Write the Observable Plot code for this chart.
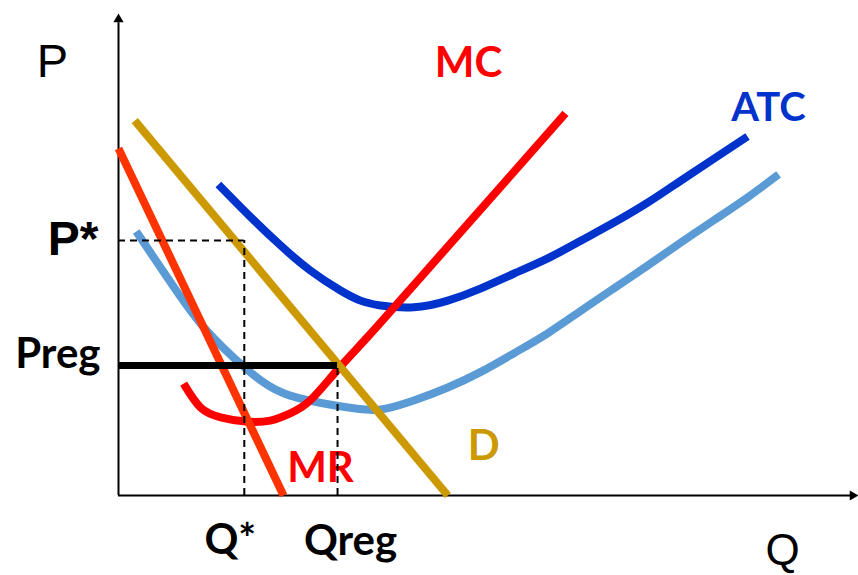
<!DOCTYPE html>
<html><head><meta charset="utf-8">
<script src="https://cdn.jsdelivr.net/npm/d3@7"></script>
<script src="https://cdn.jsdelivr.net/npm/@observablehq/plot@0.6"></script>
<style>html,body{margin:0;padding:0;background:#fff}</style>
</head><body><div id="chart"></div>
<script>
// Quantity (Q) and price (P) values
const mrQ = [0, 2.23];
const mrP = [7.23, 0];
const dQ = [0.22, 4.45];
const dP = [7.81, 0];
const mcQ = [0.88, 1.11, 1.38, 1.72, 2.05, 2.32, 2.59, 2.96, 3.36, 4.08, 6.04];
const mcP = [2.33, 1.83, 1.63, 1.54, 1.56, 1.71, 1.98, 2.62, 3.29, 4.54, 7.96];
const atcQ = [1.35, 1.78, 2.19, 2.59, 3.00, 3.27, 3.54, 3.99, 4.45, 4.89, 5.34, 5.80, 6.24, 6.69, 7.15, 7.59, 8.04, 8.50];
const atcP = [6.48, 5.81, 5.21, 4.69, 4.27, 4.06, 3.96, 3.92, 4.06, 4.31, 4.62, 4.94, 5.30, 5.68, 6.10, 6.55, 7.01, 7.48];
const avcQ = [0.24, 0.66, 1.11, 1.55, 1.92, 2.32, 2.91, 3.34, 3.61, 3.99, 4.45, 4.89, 5.34, 5.80, 6.24, 6.69, 7.15, 7.59, 8.04, 8.50, 8.92];
const avcP = [5.50, 4.54, 3.58, 2.88, 2.40, 2.08, 1.88, 1.79, 1.81, 1.98, 2.25, 2.57, 2.96, 3.38, 3.84, 4.31, 4.79, 5.26, 5.73, 6.21, 6.69];
const qStar = 1.70, pStar = 5.31;
const qReg = 2.96, pReg = 2.71;
const qMax = 10, pMax = 10;
const axisLabels = ["P", "Q"];
const levelLabels = ["P*", "Preg", "Q*", "Qreg"];
const curveLabels = ["MC", "ATC", "D", "MR"];

const pts = (qs, ps) => qs.map((q, i) => ({q, p: ps[i]}));
const mr = pts(mrQ, mrP), dem = pts(dQ, dP), mc = pts(mcQ, mcP), atc = pts(atcQ, atcP), avc = pts(avcQ, avcP);
const last = a => [a[a.length - 1]];

const calibri = "Lato, 'Open Sans', sans-serif";
const arial = "'Liberation Sans', Arial, sans-serif";
const lineOpts = {x: "q", y: "p", strokeWidth: 8, curve: "natural", strokeLinecap: "butt", strokeLinejoin: "round"};

const chart = Plot.plot({
  width: 858,
  height: 575,
  margin: 0,
  x: {domain: [0, qMax], range: [118, 858], axis: null},
  y: {domain: [0, pMax], range: [495, 15], axis: null},
  style: {background: "#fff", overflow: "visible"},
  marks: [
    // axes
    Plot.ruleY([0], {x1: 0, x2: qMax * 0.992, stroke: "#000", strokeWidth: 2}),
    Plot.ruleX([0], {y1: 0, y2: pMax * 0.985, stroke: "#000", strokeWidth: 2}),
    Plot.dot([{q: qMax * 0.9922, p: 0}], {x: "q", y: "p", symbol: "triangle", r: 3.8, fill: "#000", rotate: 90}),
    Plot.dot([{q: 0, p: pMax * 0.992}], {x: "q", y: "p", symbol: "triangle", r: 3.8, fill: "#000"}),
    // curves
    Plot.line(atc, {...lineOpts, stroke: "#0033CC"}),
    Plot.line(avc, {...lineOpts, stroke: "#5B9BD5"}),
    Plot.line(mc, {...lineOpts, stroke: "#FF0000"}),
    Plot.line(mr, {...lineOpts, curve: "linear", stroke: "#FF3300"}),
    Plot.line(dem, {...lineOpts, curve: "linear", stroke: "#CC9900"}),
    // labels on curves
    Plot.text(last(mc), {x: "q", y: "p", text: () => curveLabels[0], dx: -97, dy: -50, fill: "#FF0000", fontSize: 42, fontWeight: "bold", fontFamily: calibri}),
    Plot.text(last(atc), {x: "q", y: "p", text: () => curveLabels[1], dx: 21, dy: -28, fill: "#0033CC", fontSize: 40, fontWeight: "bold", fontFamily: calibri}),
    Plot.text(last(dem), {x: "q", y: "p", text: () => curveLabels[2], dx: 36, dy: -49, fill: "#CC9900", fontSize: 42, fontWeight: "bold", fontFamily: calibri}),
    Plot.text(last(mr), {x: "q", y: "p", text: () => curveLabels[3], dx: 37, dy: -27, fill: "#FF0000", fontSize: 42, fontWeight: "bold", fontFamily: calibri}),
    // regulated price line
    Plot.ruleY([pReg], {x1: 0, x2: qReg, stroke: "#000", strokeWidth: 7}),
    // dashed guides
    Plot.ruleY([pStar], {x1: 0, x2: qStar, stroke: "#000", strokeWidth: 2, strokeDasharray: "7,5"}),
    Plot.ruleX([qStar], {y1: 0, y2: pStar, stroke: "#000", strokeWidth: 2, strokeDasharray: "7,5"}),
    Plot.ruleX([qReg], {y1: 0, y2: pReg, stroke: "#000", strokeWidth: 2, strokeDasharray: "7,5"}),
    // level labels
    Plot.text([{q: 0, p: pStar}], {x: "q", y: "p", text: () => levelLabels[0], textAnchor: "end", dx: -20, dy: -1, fill: "#000", fontSize: 48, fontWeight: "bold", fontFamily: arial}),
    Plot.text([{q: 0, p: pReg}], {x: "q", y: "p", text: () => levelLabels[1], textAnchor: "end", dx: -18, dy: -11, fill: "#000", fontSize: 42, fontWeight: "bold", fontFamily: calibri}),
    Plot.text([{q: qStar, p: 0}], {x: "q", y: "p", text: () => levelLabels[2], dx: -14, dy: 45, fill: "#000", fontSize: 42, fontWeight: "bold", fontFamily: calibri}),
    Plot.text([{q: qReg, p: 0}], {x: "q", y: "p", text: () => levelLabels[3], dx: 13, dy: 46, fill: "#000", fontSize: 42, fontWeight: "bold", fontFamily: calibri}),
    // axis labels
    Plot.text([{q: 0, p: pMax}], {x: "q", y: "p", text: () => axisLabels[0], dx: -66, dy: 46, fill: "#000", fontSize: 47, fontFamily: arial}),
    Plot.text([{q: qMax, p: 0}], {x: "q", y: "p", text: () => axisLabels[1], dx: -76, dy: 55, fill: "#000", fontSize: 44, fontFamily: arial})
  ]
});
document.getElementById("chart").appendChild(chart);
</script>
</body></html>
